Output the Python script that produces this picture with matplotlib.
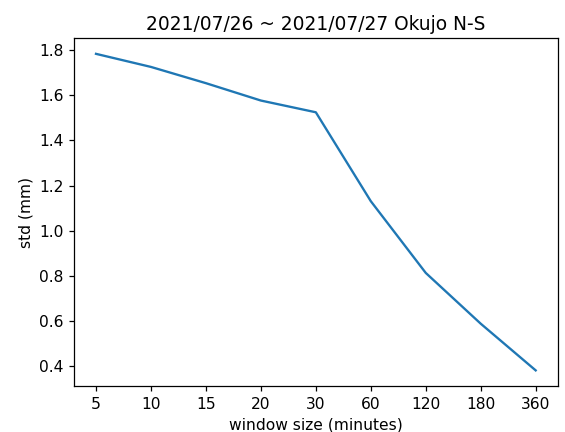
import matplotlib
matplotlib.use("Agg")
import matplotlib.pyplot as plt

windows = ["5", "10", "15", "20", "30", "60", "120", "180", "360"]
std_mm = [1.784, 1.726, 1.654, 1.577, 1.525, 1.131, 0.813, 0.588, 0.381]

s = 1.12
plt.rcParams.update({
    "font.size": 10 * s,
    "lines.linewidth": 1.5 * s,
    "axes.linewidth": 0.8 * s,
    "xtick.major.size": 3.5 * s,
    "ytick.major.size": 3.5 * s,
    "xtick.major.width": 0.8 * s,
    "ytick.major.width": 0.8 * s,
})

fig = plt.figure(figsize=(5.65, 4.32), dpi=100)
ax = fig.add_axes([0.131, 0.106, 0.856, 0.806])
ax.plot(windows, std_mm)
ax.set_xlabel("window size (minutes)")
ax.set_ylabel("std (mm)")
ax.set_title("2021/07/26 ~ 2021/07/27 Okujo N-S")
fig.savefig("out.png", dpi=100)
